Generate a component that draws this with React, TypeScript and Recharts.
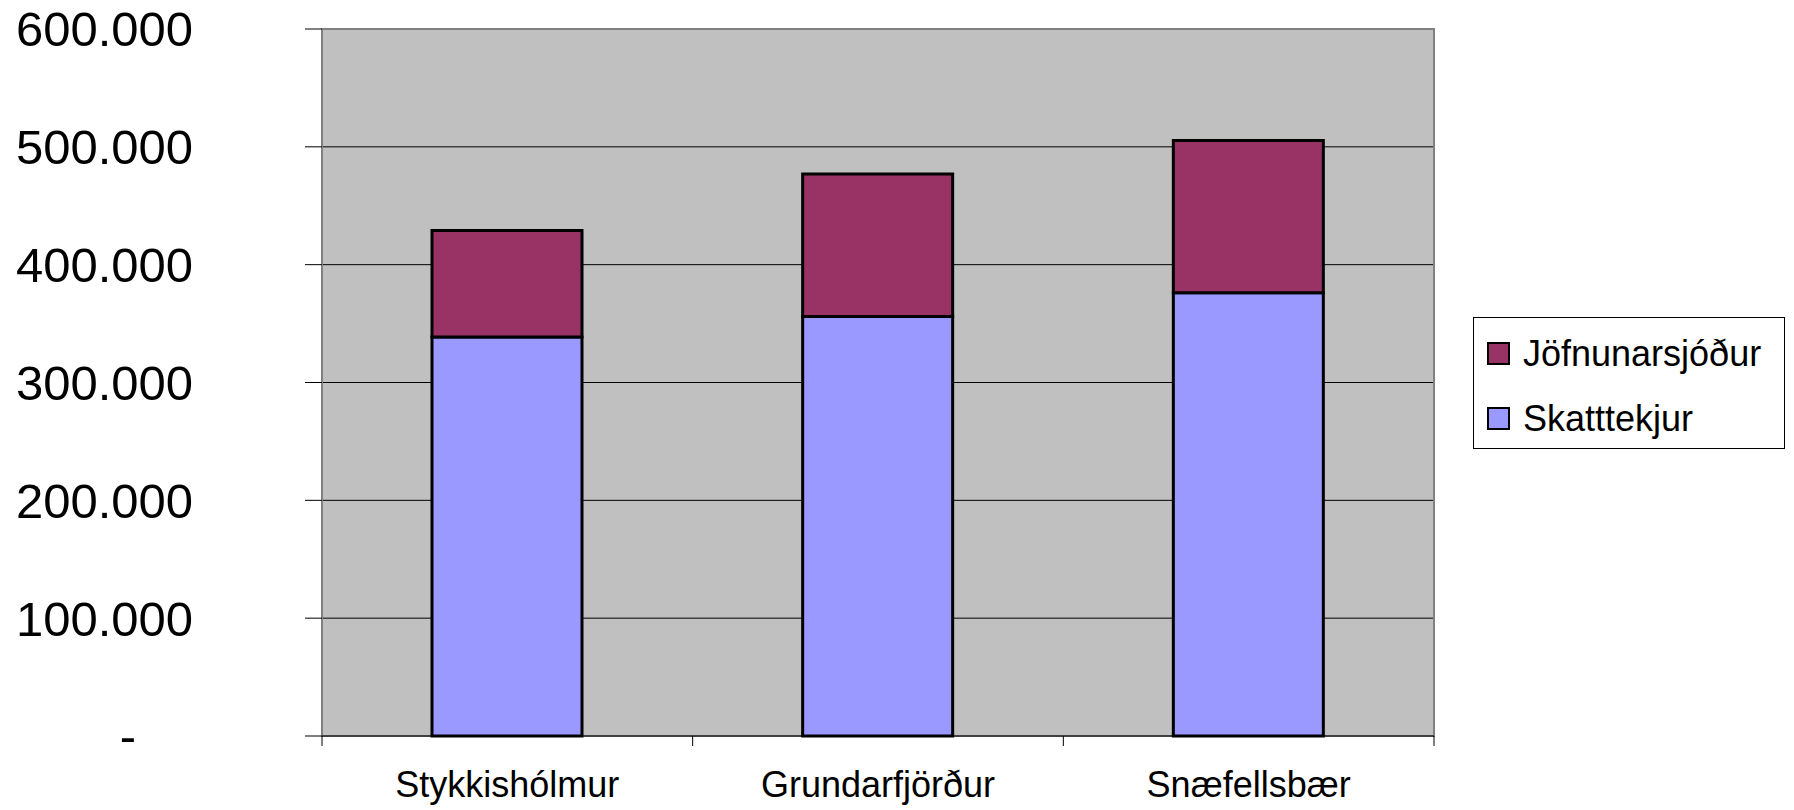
import React from "react";
import {
  BarChart,
  Bar,
  XAxis,
  YAxis,
  CartesianGrid,
  ReferenceArea,
  Legend,
} from "recharts";

const towns = ["Stykkishólmur", "Grundarfjörður", "Snæfellsbær"];
const skatttekjur = [338600, 356100, 376200];
const jofnunarsjodur = [90500, 120900, 129100];
const yTicks = [0, 100000, 200000, 300000, 400000, 500000, 600000];
const legendOrder = ["Jöfnunarsjóður", "Skatttekjur"];

const FONT = "'Liberation Sans', Arial, sans-serif";

const chartData = towns.map((name, i) => ({
  name,
  Skatttekjur: skatttekjur[i],
  "Jöfnunarsjóður": jofnunarsjodur[i],
}));

const fmt = (v: number) =>
  v === 0 ? "-" : String(v).replace(/\B(?=(\d{3})+(?!\d))/g, ".");

function YTick(props: any) {
  const { x, y, payload } = props;
  const zero = payload.value === 0;
  return (
    <text
      x={zero ? x - 57 : x}
      y={y}
      dy="0.355em"
      textAnchor="end"
      fontSize={49}
      fontFamily={FONT}
      fill="#000"
    >
      {fmt(payload.value)}
    </text>
  );
}

// category label plus tick marks on the category boundaries
function XTick(props: any) {
  const { x, y, payload, index, visibleTicksCount } = props;
  const half = payload.offset ?? 185;
  const axisY = y - 35;
  const last = index === visibleTicksCount - 1;
  return (
    <g>
      <line x1={x - half} x2={x - half} y1={axisY} y2={axisY + 10} stroke="#000" />
      {last && (
        <line x1={x + half} x2={x + half} y1={axisY} y2={axisY + 10} stroke="#000" />
      )}
      <text
        x={x}
        y={y}
        dy="0.71em"
        textAnchor="middle"
        fontSize={36}
        fontFamily={FONT}
        fill="#000"
      >
        {payload.value}
      </text>
    </g>
  );
}

function LegendBox(props: any) {
  const items = [...(props.payload || [])].sort(
    (a: any, b: any) => legendOrder.indexOf(a.value) - legendOrder.indexOf(b.value)
  );
  return (
    <div
      style={{
        boxSizing: "border-box",
        width: 312,
        height: 132,
        border: "1px solid #000",
        background: "#fff",
        fontFamily: FONT,
        fontSize: 36,
        paddingTop: 3,
      }}
    >
      {items.map((it: any) => (
        <div
          key={it.value}
          style={{ display: "flex", alignItems: "center", height: 65 }}
        >
          <span
            style={{
              display: "inline-block",
              boxSizing: "border-box",
              width: 23,
              height: 23,
              marginLeft: 13,
              marginRight: 13,
              background: it.color,
              border: "2px solid #000",
            }}
          />
          <span style={{ color: "#000" }}>{it.value}</span>
        </div>
      ))}
    </div>
  );
}

export default function App() {
  return (
    <div style={{ width: 1794, height: 810, fontFamily: FONT, background: "#fff" }}>
      <style>{"body{margin:0}"}</style>
      <BarChart
        width={1794}
        height={810}
        data={chartData}
        margin={{ top: 29, right: 360, bottom: 0, left: 0 }}
        barSize={150}
      >
        <CartesianGrid
          vertical={false}
          stroke="#000"
          fill="#C0C0C0"
          fillOpacity={1}
        />
        <XAxis
          dataKey="name"
          height={74}
          axisLine={{ stroke: "#000" }}
          tickLine={false}
          tickSize={0}
          tickMargin={35}
          interval={0}
          tick={<XTick />}
        />
        <YAxis
          width={322}
          domain={[0, 600000]}
          ticks={yTicks}
          interval={0}
          axisLine={false}
          tickLine={{ stroke: "#000" }}
          tickSize={17}
          tickMargin={112}
          tick={<YTick />}
        />
        <ReferenceArea
          y1={0}
          y2={600000}
          fill="none"
          stroke="#808080"
          strokeWidth={2}
          ifOverflow="visible"
        />
        <Legend
          layout="horizontal"
          align="center"
          verticalAlign="middle"
          content={<LegendBox />}
          wrapperStyle={{ left: 1473, top: 317, width: 312, height: 132 }}
        />
        <Bar
          dataKey="Skatttekjur"
          stackId="a"
          fill="#9999FF"
          stroke="#000"
          strokeWidth={3}
          isAnimationActive={false}
        />
        <Bar
          dataKey="Jöfnunarsjóður"
          stackId="a"
          fill="#993366"
          stroke="#000"
          strokeWidth={3}
          isAnimationActive={false}
        />
      </BarChart>
    </div>
  );
}
